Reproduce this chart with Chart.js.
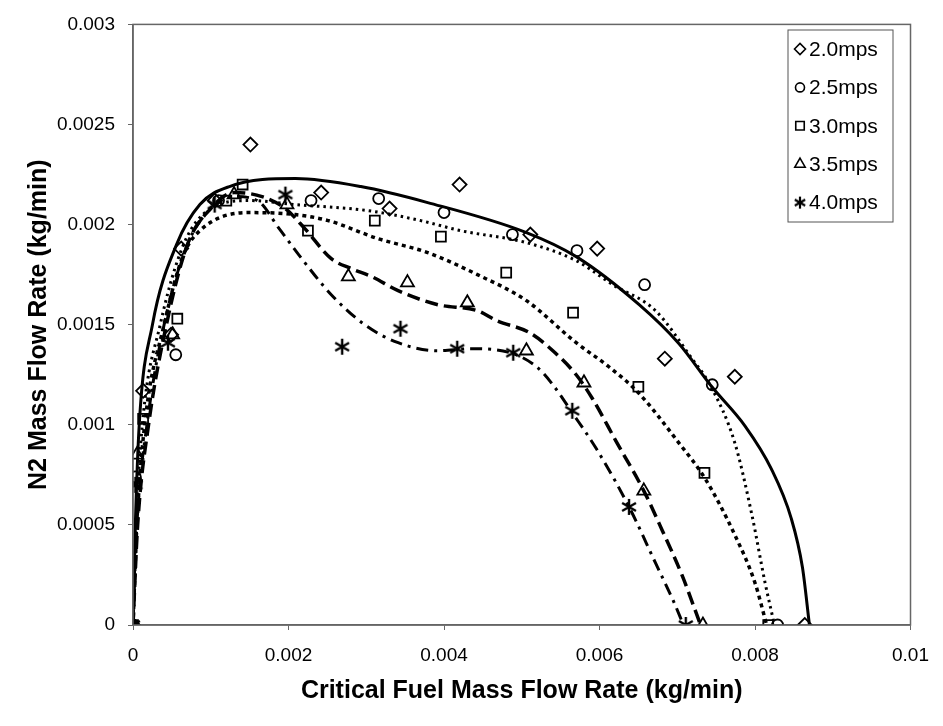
<!DOCTYPE html>
<html>
<head>
<meta charset="utf-8">
<script src="https://cdn.jsdelivr.net/npm/chart.js@4/dist/chart.umd.min.js"></script>
<style>
  html, body { margin: 0; padding: 0; background: #fff; }
  #wrap { width: 943px; height: 726px; }
</style>
</head>
<body>
<div id="wrap"><canvas id="chart" width="943" height="726"></canvas></div>
<script>
const seriesLabels = ["2.0mps", "2.5mps", "3.0mps", "3.5mps", "4.0mps"];

const xTicks = [0, 0.002, 0.004, 0.006, 0.008, 0.01];
const yTicks = [0, 0.0005, 0.001, 0.0015, 0.002, 0.0025, 0.003];
const xTickLabels = ["0", "0.002", "0.004", "0.006", "0.008", "0.01"];
const yTickLabels = ["0", "0.0005", "0.001", "0.0015", "0.002", "0.0025", "0.003"];

// measured points
const m20x = [0, 0.00013, 0.00049, 0.00062, 0.00105, 0.00151, 0.00242, 0.0033, 0.0042, 0.00511, 0.00597, 0.00684, 0.00774, 0.00864];
const m20y = [0, 0.00117, 0.00145, 0.00188, 0.00212, 0.0024, 0.00216, 0.00208, 0.0022, 0.00195, 0.00188, 0.00133, 0.00124, 0];
const m25x = [0, 0.00003, 0.00055, 0.0011, 0.00229, 0.00316, 0.004, 0.00488, 0.00571, 0.00658, 0.00745, 0.00829];
const m25y = [0, 0.00074, 0.00135, 0.00212, 0.00212, 0.00213, 0.00206, 0.00195, 0.00187, 0.0017, 0.0012, 0];
const m30x = [0, 0.00013, 0.00057, 0.0012, 0.00141, 0.00225, 0.00311, 0.00396, 0.0048, 0.00566, 0.0065, 0.00735, 0.00817];
const m30y = [0, 0.00103, 0.00153, 0.00212, 0.0022, 0.00197, 0.00202, 0.00194, 0.00176, 0.00156, 0.00119, 0.00076, 0];
const m35x = [0, 0.00005, 0.00051, 0.0013, 0.00198, 0.00277, 0.00353, 0.0043, 0.00506, 0.0058, 0.00657, 0.00733];
const m35y = [0, 0.00085, 0.00145, 0.00215, 0.0021, 0.00174, 0.00171, 0.00161, 0.00137, 0.00121, 0.00067, 0];
const m40x = [0, 0.00003, 0.00045, 0.00105, 0.00196, 0.00269, 0.00344, 0.00417, 0.00489, 0.00565, 0.00638, 0.00711];
const m40y = [0, 0.0007, 0.00141, 0.0021, 0.00215, 0.00139, 0.00148, 0.00138, 0.00136, 0.00107, 0.00059, 0];

// fitted curves
const c20x = [0, 0.00003, 0.00008, 0.00025, 0.00056, 0.00086, 0.00124, 0.00209, 0.00293, 0.00379, 0.00506, 0.0057, 0.00651, 0.00702, 0.007445, 0.00787, 0.00821, 0.008465, 0.00861, 0.0087];
const c20y = [0, 0.0005, 0.001, 0.0015, 0.0019, 0.0021, 0.00219, 0.00223, 0.00219, 0.00211, 0.00196, 0.00184, 0.0016, 0.001406, 0.00119, 0.000995, 0.00078, 0.000534, 0.000288, 0];
const c25x = [0, 0.00004, 0.00012, 0.00035, 0.00065, 0.001, 0.0015, 0.00209, 0.00302, 0.0037, 0.00421, 0.00506, 0.0057, 0.00617, 0.00672, 0.00719, 0.00742, 0.00774, 0.00796, 0.00813, 0.00825];
const c25y = [0, 0.0005, 0.001, 0.0015, 0.0019, 0.00208, 0.00212, 0.0021, 0.00207, 0.00202, 0.00197, 0.00191, 0.00182, 0.0017, 0.00157, 0.00133, 0.0012, 0.00091, 0.00055, 0.00021, 0];
const c30x = [0, 0.00005, 0.00015, 0.0004, 0.00064, 0.00086, 0.0015, 0.00209, 0.00251, 0.00315, 0.00379, 0.00443, 0.00506, 0.0057, 0.00612, 0.0065, 0.00702, 0.00736, 0.00774, 0.008, 0.00815];
const c30y = [0, 0.0005, 0.001, 0.0015, 0.00184, 0.00197, 0.00206, 0.00205, 0.00202, 0.00193, 0.00186, 0.00175, 0.00162, 0.00141, 0.00129, 0.00116, 0.00091, 0.00073, 0.00045, 0.00021, 0];
const c35x = [0, 0.00006, 0.0002, 0.00043, 0.0007, 0.001, 0.0013, 0.00166, 0.00196, 0.00221, 0.00255, 0.00281, 0.00307, 0.00341, 0.00392, 0.00443, 0.00468, 0.0051, 0.0054, 0.0057, 0.00591, 0.00621, 0.00657, 0.00681, 0.00706, 0.0073];
const c35y = [0, 0.0005, 0.001, 0.0015, 0.0019, 0.00208, 0.00216, 0.00214, 0.00208, 0.00198, 0.00183, 0.00178, 0.00174, 0.00167, 0.0016, 0.00157, 0.00152, 0.00146, 0.00137, 0.00125, 0.00113, 0.00092, 0.00067, 0.00047, 0.00025, 0];
const c40x = [0, 0.00005, 0.00018, 0.0004, 0.0007, 0.001, 0.0013, 0.0016, 0.00188, 0.00213, 0.00255, 0.00298, 0.00341, 0.00392, 0.00434, 0.00485, 0.00519, 0.0054, 0.00565, 0.00596, 0.00638, 0.00672, 0.00695, 0.00708];
const c40y = [0, 0.0005, 0.001, 0.0015, 0.0019, 0.00208, 0.00214, 0.00212, 0.00198, 0.00185, 0.00165, 0.0015, 0.00141, 0.00137, 0.00138, 0.00136, 0.00129, 0.0012, 0.00106, 0.00088, 0.00059, 0.00031, 0.00012, 0];

function pts(xs, ys) {
  return xs.map((x, i) => ({ x: x, y: ys[i] }));
}

// asterisk marker: vertical stroke plus an X
function asterisk(size, lw) {
  const c = document.createElement("canvas");
  c.width = size;
  c.height = size;
  const g = c.getContext("2d");
  const r = size / 2 - 1;
  g.strokeStyle = "#000";
  g.lineWidth = lw;
  g.beginPath();
  for (let k = 0; k < 3; k++) {
    const a = Math.PI / 2 + k * Math.PI / 3;
    g.moveTo(size / 2 + Math.cos(a) * r, size / 2 - Math.sin(a) * r);
    g.lineTo(size / 2 - Math.cos(a) * r, size / 2 + Math.sin(a) * r);
  }
  g.stroke();
  return c;
}

const markerStyles = [
  { pointStyle: "rectRot", radius: 7 },
  { pointStyle: "circle", radius: 5.5 },
  { pointStyle: "rect", radius: 7 },
  { pointStyle: "triangle", radius: 7.5 },
  { pointStyle: asterisk(18, 2.4), radius: 9 },
];
const legendStyles = [
  { pointStyle: "rectRot", radius: 5.5 },
  { pointStyle: "circle", radius: 4.5 },
  { pointStyle: "rect", radius: 6 },
  { pointStyle: "triangle", radius: 6 },
  { pointStyle: asterisk(14, 2.2), radius: 7 },
];

const curves = [
  { data: pts(c20x, c20y), width: 3, dash: [] },
  { data: pts(c25x, c25y), width: 3, dash: [2.5, 4] },
  { data: pts(c30x, c30y), width: 3.5, dash: [4, 4] },
  { data: pts(c35x, c35y), width: 3.5, dash: [13, 6] },
  { data: pts(c40x, c40y), width: 3, dash: [12, 6, 3, 6] },
];
const marks = [pts(m20x, m20y), pts(m25x, m25y), pts(m30x, m30y), pts(m35x, m35y), pts(m40x, m40y)];

const datasets = [];
curves.forEach((c, i) => {
  datasets.push({
    label: seriesLabels[i] + " fit",
    data: c.data,
    showLine: true,
    borderColor: "#000",
    borderWidth: c.width,
    borderDash: c.dash,
    cubicInterpolationMode: "monotone",
    pointRadius: 0,
    fill: false,
  });
});
marks.forEach((d, i) => {
  datasets.push({
    label: seriesLabels[i],
    data: d,
    showLine: false,
    pointStyle: markerStyles[i].pointStyle,
    pointRadius: markerStyles[i].radius,
    borderColor: "#000",
    backgroundColor: "rgba(0,0,0,0)",
    pointBorderWidth: 1.8,
  });
});

const frame = {
  id: "frame",
  afterDatasetsDraw(chart) {
    const { ctx, chartArea: a } = chart;
    ctx.save();
    ctx.strokeStyle = "#666";
    ctx.lineWidth = 1.5;
    ctx.strokeRect(a.left, a.top, a.right - a.left, a.bottom - a.top);
    ctx.restore();
  },
  afterDraw(chart) {
    const ctx = chart.ctx;
    const box = { x: 788, y: 30, w: 105, h: 192 };
    ctx.save();
    ctx.fillStyle = "#fff";
    ctx.fillRect(box.x, box.y, box.w, box.h);
    ctx.strokeStyle = "#555";
    ctx.lineWidth = 1;
    ctx.strokeRect(box.x, box.y, box.w, box.h);
    ctx.font = "21px 'Liberation Sans', Arial, sans-serif";
    ctx.textBaseline = "middle";
    seriesLabels.forEach((lab, i) => {
      const cy = box.y + 19 + i * 38.4;
      ctx.strokeStyle = "#000";
      ctx.fillStyle = "rgba(0,0,0,0)";
      ctx.lineWidth = 1.6;
      Chart.helpers.drawPoint(ctx, {
        pointStyle: legendStyles[i].pointStyle,
        radius: legendStyles[i].radius,
        borderWidth: 1.6,
      }, box.x + 12, cy);
      ctx.fillStyle = "#000";
      ctx.fillText(lab, box.x + 21, cy + 1);
    });
    ctx.restore();
  },
};

const tickFont = { family: "'Liberation Sans', Arial, sans-serif", size: 19 };
const titleFont = { family: "'Liberation Sans', Arial, sans-serif", size: 25, weight: "bold" };

new Chart(document.getElementById("chart"), {
  type: "scatter",
  data: { datasets: datasets },
  options: {
    responsive: false,
    animation: false,
    layout: { padding: { top: 17, right: 26, left: 0, bottom: 0 } },
    plugins: { legend: { display: false }, tooltip: { enabled: false } },
    scales: {
      x: {
        type: "linear",
        min: 0,
        max: 0.01,
        afterBuildTicks: s => { s.ticks = xTicks.map(v => ({ value: v })); },
        afterFit: s => { s.height = 101; },
        ticks: {
          color: "#000",
          font: tickFont,
          padding: 14,
          callback: v => xTickLabels[xTicks.indexOf(v)],
        },
        grid: { drawOnChartArea: false, tickLength: 5, color: "#666" },
        border: { color: "#666", width: 1.5 },
        title: {
          display: true,
          text: "Critical Fuel Mass Flow Rate (kg/min)",
          color: "#000",
          font: titleFont,
          padding: { bottom: 20 },
        },
      },
      y: {
        type: "linear",
        min: 0,
        max: 0.003,
        afterBuildTicks: s => { s.ticks = yTicks.map(v => ({ value: v })); },
        afterFit: s => { s.width = 133; },
        ticks: {
          color: "#000",
          font: tickFont,
          padding: 13,
          callback: v => yTickLabels[yTicks.indexOf(v)],
        },
        grid: { drawOnChartArea: false, tickLength: 5, color: "#666" },
        border: { color: "#666", width: 1.5 },
        title: {
          display: true,
          text: "N2 Mass Flow Rate (kg/min)",
          color: "#000",
          font: titleFont,
          padding: { top: 24 },
        },
      },
    },
  },
  plugins: [frame],
});
</script>
</body>
</html>
